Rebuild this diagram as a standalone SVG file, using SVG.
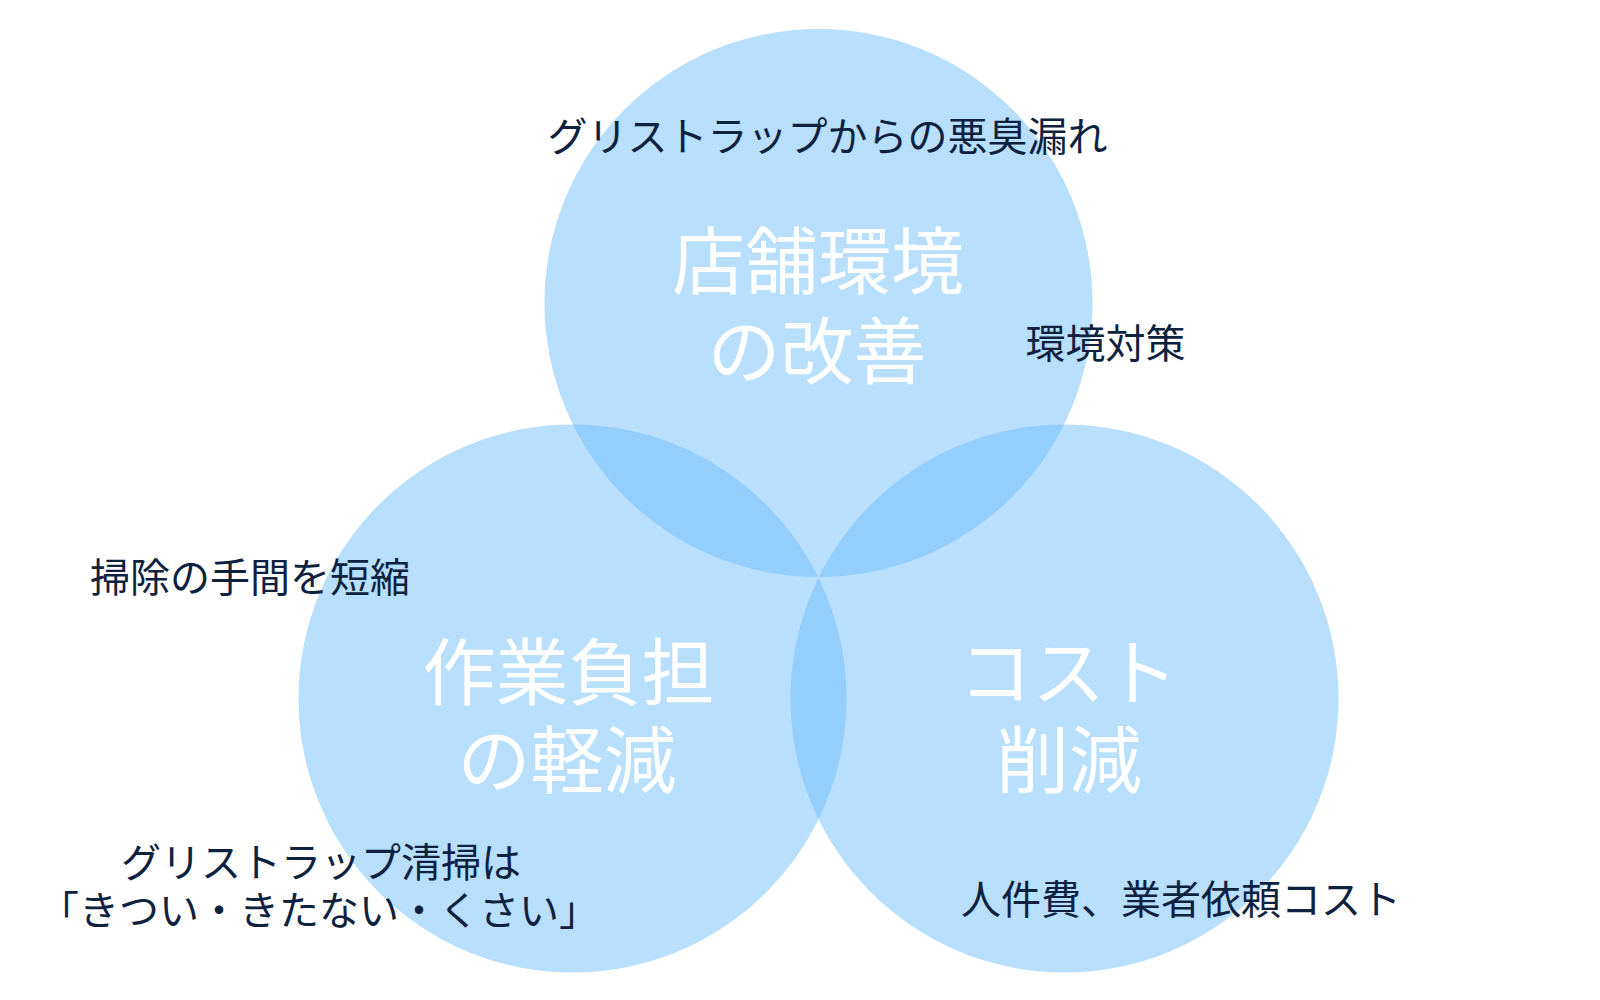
<svg xmlns="http://www.w3.org/2000/svg" width="1600" height="1000" viewBox="0 0 1600 1000">
<style>
.c{fill:#6ABDFA;fill-opacity:0.48}
.t{font-family:"Noto Sans CJK JP","Noto Sans",sans-serif;text-anchor:middle}
.big{font-size:73px;fill:#ffffff}
.lbl{font-size:40px;fill:#0e2240}
</style>
<rect width="1600" height="1000" fill="#ffffff"/>
<g id="circle-store">
<circle class="c" cx="818.5" cy="303" r="274"/>
</g>
<g id="circle-work">
<circle class="c" cx="572.5" cy="698.5" r="274"/>
</g>
<g id="circle-cost">
<circle class="c" cx="1064.5" cy="698.5" r="274"/>
</g>
<g id="connectors"></g>
<g id="title-store">
<text class="t big" x="818" y="288">店舗環境</text>
<text class="t big" x="817" y="378">の改善</text>
</g>
<g id="title-work">
<text class="t big" x="568.5" y="699">作業負担</text>
<text class="t big" x="567" y="787">の軽減</text>
</g>
<g id="title-cost">
<text class="t big" x="1068.5" y="699">コスト</text>
<text class="t big" x="1069" y="787">削減</text>
</g>
<g id="label-odor">
<text class="t lbl" x="827.5" y="151">グリストラップからの悪臭漏れ</text>
</g>
<g id="label-env">
<text class="t lbl" x="1105.5" y="358">環境対策</text>
</g>
<g id="label-clean">
<text class="t lbl" x="250" y="592">掃除の手間を短縮</text>
</g>
<g id="label-3k">
<text class="t lbl" x="321" y="877">グリストラップ清掃は</text>
<text class="t lbl" x="319" y="925">「きつい・きたない・くさい」</text>
</g>
<g id="label-costs">
<text class="t lbl" x="1181" y="914">人件費、業者依頼コスト</text>
</g>
</svg>
